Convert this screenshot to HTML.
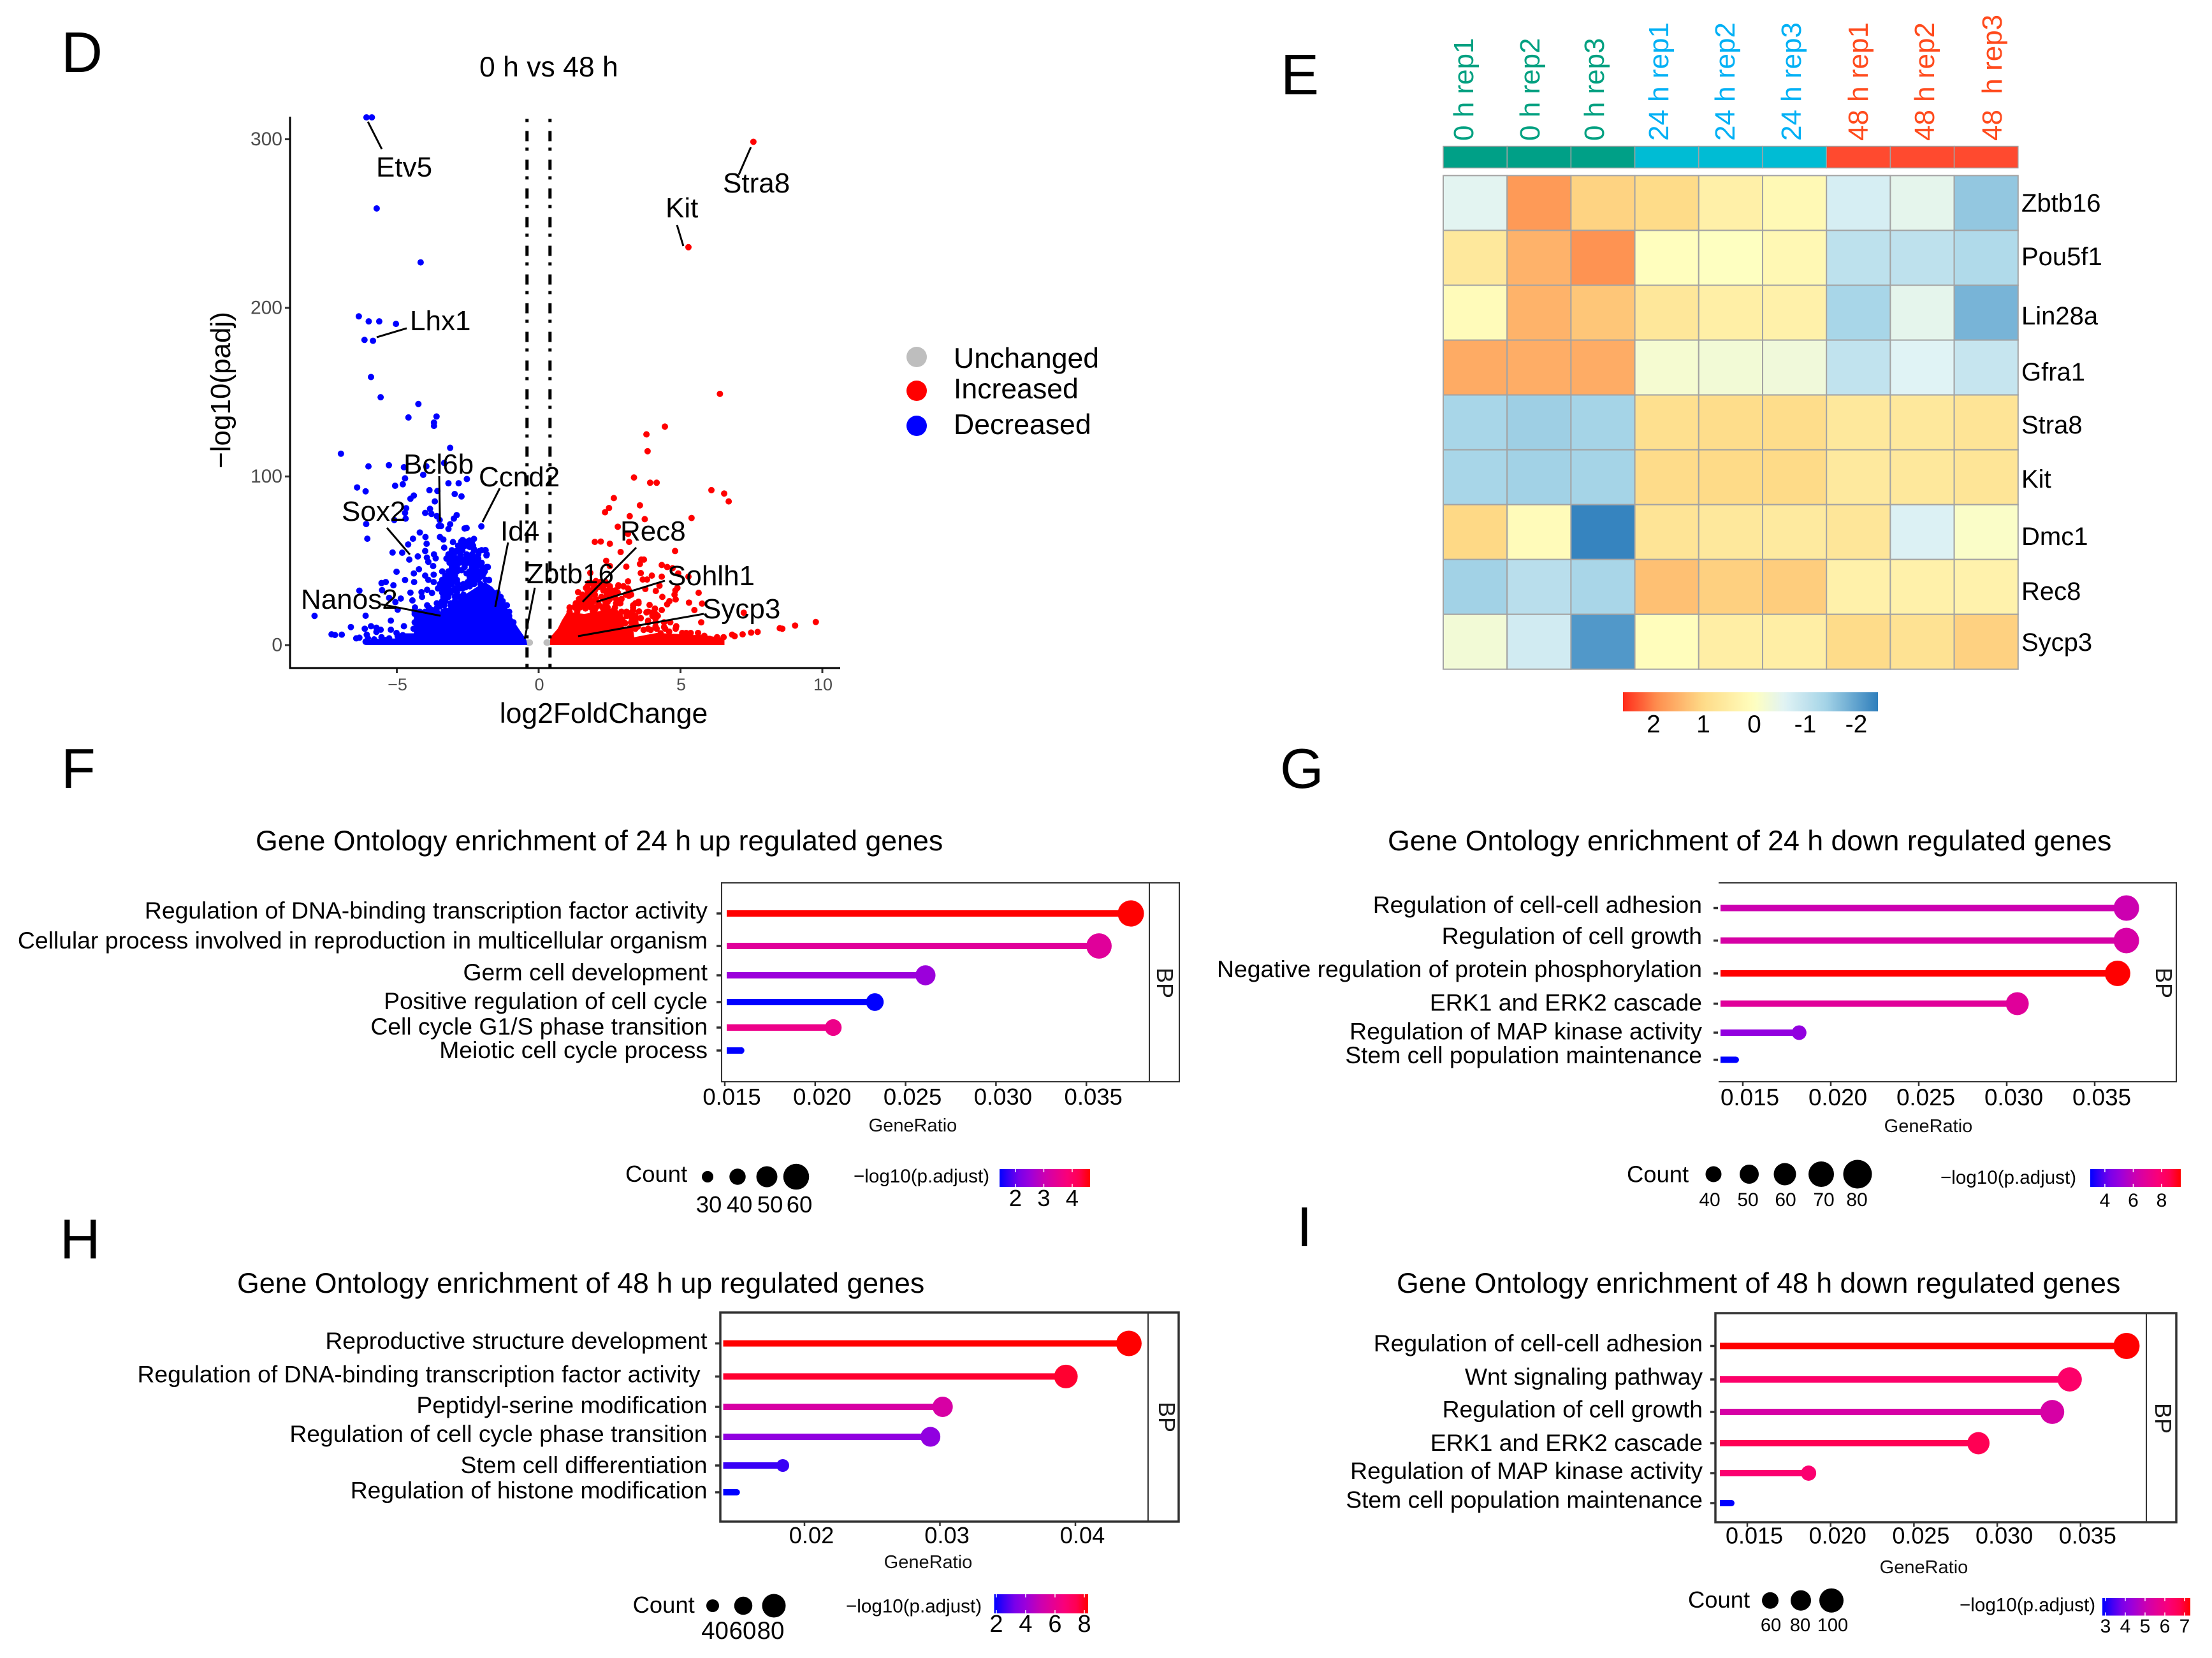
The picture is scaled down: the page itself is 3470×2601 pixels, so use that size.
<!DOCTYPE html>
<html lang="en">
<head>
<meta charset="utf-8">
<title>Transcriptome figure panels D to I</title>
<style>
html,body{margin:0;padding:0;background:#fff;}
svg{display:block;font-family:"Liberation Sans",Arial,sans-serif;}
</style>
</head>
<body>
<svg id="figure" xmlns="http://www.w3.org/2000/svg" width="3470" height="2601" viewBox="0 0 3470 2601">
<rect x="0" y="0" width="3470" height="2601" fill="#fff"/>
<text x="96" y="113" font-size="90">D</text>
<text x="2009" y="148" font-size="90">E</text>
<text x="96" y="1236" font-size="88">F</text>
<text x="2008" y="1236" font-size="88">G</text>
<text x="94" y="1974" font-size="88">H</text>
<text x="2034" y="1955" font-size="88">I</text>

<text x="752" y="120" font-size="44.5">0 h vs 48 h</text>
<text x="947" y="1134" font-size="44.5" text-anchor="middle">log2FoldChange</text>
<text transform="translate(361 612) rotate(-90)" font-size="44" text-anchor="middle">−log10(padj)</text>
<g id="volcano"></g>
<g>
<circle cx="1438" cy="560" r="16" fill="#bebebe"/>
<circle cx="1438" cy="613" r="16" fill="#ff0000"/>
<circle cx="1438" cy="668" r="16" fill="#0000ff"/>
<text x="1496" y="577" font-size="44.6">Unchanged</text>
<text x="1496" y="625" font-size="44.6">Increased</text>
<text x="1496" y="681" font-size="44.6">Decreased</text>
</g>

<g id="heatmap"></g>

<text x="401" y="1334" font-size="44.7">Gene Ontology enrichment of 24 h up regulated genes</text>
<text x="2177" y="1334" font-size="44.7">Gene Ontology enrichment of 24 h down regulated genes</text>
<text x="372" y="2028" font-size="44.7">Gene Ontology enrichment of 48 h up regulated genes</text>
<text x="2191" y="2028" font-size="44.7">Gene Ontology enrichment of 48 h down regulated genes</text>
<g id="lollipops"></g>
</svg>

<script>
/* ---------- panel D: volcano data (log2FoldChange, -log10 padj) ---------- */
const volcanoXTicks = [-5, 0, 5, 10];
const volcanoYTicks = [0, 100, 200, 300];
const foldChangeCutoffs = [-0.41, 0.4];
const grayX = [-0.31, -0.36, 0.28, 0.33];
const grayY = [1.5, 1.5, 1.5, 1.5];
const blueCoreX = [-6.1,-6.1,-5.0,-4.9,-4.4,-4.4,-3.75,-3.4,-3.2,-2.98,-2.5,-2.13,-1.9,-1.64,-1.46,-1.31,-1.16,-1.0,-0.85,-0.7,-0.55,-0.44,-0.4];
const blueCoreY = [0,3,4,7,7,19,19,20,22,25,31,35,37.5,34.5,31,27,23.5,18.5,13.5,9.7,6,3.4,0];
const redCoreX = [0.4,0.41,0.67,0.82,1.01,1.61,2.66,2.96,3.0,3.33,3.37,4.16,4.9,5.36,5.8,6.55,6.55];
const redCoreY = [0,4.7,9.7,14.7,19.8,18.5,21.7,18.5,11,9.7,4.7,7.2,6.6,6,6,4,0];
const blueX = [
-6.07,-5.88,-5.71,-4.16,-6.34,-5.99,-5.62,-5.03,-6.14,-5.84,
-5.91,-5.57,-4.24,-4.59,-3.6,-3.69,-3.69,-6.97,-3.12,-6.0,
-5.28,-4.75,-3.96,-4.07,-3.33,-4.71,-4.79,-5.06,-6.4,-6.1,
-2.53,-2.82,-3.18,-3.85,-3.57,-2.96,-2.72,-4.4,-4.52,-3.66,
-3.83,-4.67,-4.71,-4.69,-5.09,-4,-3.78,-3.59,-3.49,-2.89,
-2.99,-6.08,-6.04,-3.12,-3.18,-3.52,-3.44,-2.61,-2.54,-2.02,
-4.19,-4.43,-3.99,-3.48,-3.36,-3.02,-2.68,-2.44,-2.28,-4.6,
-3.95,-3.33,-2.76,-2.69,-2.43,-2.28,-2.09,-1.89,-1.84,-5.15,
-4.81,-4.56,-4,-4.26,-3.94,-3.69,-3.63,-3.89,-3.72,-2.91,
-3.1,-3.21,-3.14,-2.88,-2.54,-2.2,-2.65,-2.5,-2.24,-2.05,
-1.83,-2.72,-2.34,-1.94,-3.03,-5.01,-4.22,-4.4,-3.4,-3.7,
-4,-3.89,-3.14,-3.33,-4.71,-4.39,-3.7,-1.75,-5.54,-5.39,
-5.12,-5.52,-6.32,-3.51,-3.18,-3.93,-3.76,-4.13,-4.52,-4.11,
-4.45,-5.27,-4.86,-5.05,-4.97,-4.36,-3.93,-3.87,-3.59,-3.44,
-3.29,-7.9,-6.1,-5.21,-6.62,-4.75,-5.91,-5.72,-6.13,-5.57,
-5.21,-5.72,-7.3,-7.18,-6.94,-6.43,-6.32,-6.06,-5.01,-6.02,
-5.8,-5.54,-5.27,-4.79,-3.18,-2.95,-2.54,-2.43,-2.28,-2.09,
-2.13,-1.98,-2.5,-2.28,-2.05,-3.1,-3.25,-3.4,-3.25,-3.03,
-2.8,-2.58,-2.43,-3.36,-3.18,-2.95,-3.4,-3.1,-3.59,-3.48,
-3.63,-3.78,-2.65,-2.88,-1.49,-1.38,-1.23,-1.04,-0.89,-4.37,
-4.22,-4.07,-3.93,-4.37,-4.41,-4.97,-5.4,-5.0,-5.7,-6.1];
const blueY = [
313,313,259,227,195,192,192,190.5,181,180.5,
159,147,143,135,135.6,132,130,113.5,117,106,
106.7,105.5,106,101,108,98.9,95.4,94.5,93.5,91.2,
98.5,96,96,91.9,91.4,89.6,88.2,88.7,86.8,85.2,
80.8,81.2,78.4,75,74.2,78.4,77.8,76.5,74.2,77.1,
75,71.8,63.1,71.7,68.9,70.6,70.6,69.2,69.4,70.4,
66.8,63.1,64.1,64.1,62.6,61.1,62.3,62,63,59.7,
60.1,57.8,59.5,57.6,58.2,57,55.7,56.3,53.2,54.9,
54.8,50.7,55.8,52.6,51.9,53.8,51.5,49.4,46.9,55.7,
54.4,51.9,49.4,51.3,53.2,51.9,48.8,48.8,48.8,47.5,
46.3,44.4,43.7,42.5,45.6,43.5,45,42.5,43.7,41.8,
41.2,38.7,41.2,38,38.6,37.4,37.4,38.4,36.8,37.4,
35.5,32.6,32.3,34.3,34.3,32.8,30.9,31.4,31.1,28.6,
26.5,28,27.6,25.5,21,22.3,23.6,22.3,21.9,24.8,
20.4,17.3,17.4,14.5,10.7,11.2,11.2,10.3,9.7,9.1,
9.1,7.8,6.4,6,6.2,4,4.4,6.2,7.2,4,
3.4,4.7,4,5.9,43.7,42.5,42.5,40,39.3,40,
42.5,43.7,37.4,36.2,36.2,37.4,40,34.9,31.1,32.4,
33.6,34.3,34.9,29.9,28.6,28.6,26.1,24.8,24.8,22.9,
21,21,29.9,37.4,29.9,28.6,23.6,17.3,13.5,18.5,
17.3,18.5,19.2,13.5,9.7,5.3,3,2,2,2];
const blueDenseX = [
-2.73,-2.58,-2.35,
-2.84,-2.61,-2.5,-2.31,
-3.06,-2.8,-2.69,-2.28,-2.01,-1.87,
-3.18,-2.99,-2.76,-2.54,-2.35,-2.13,-1.83,
-3.25,-3.06,-2.73,-2.58,-2.43,-2.24,-2.13,
-3.14,-2.99,-2.8,-2.65,-2.35,-2.17,-2.01,
-3.06,-2.88,-2.61,-2.35,-2.2,-1.98,-1.79,
-3.06,-2.88,-2.43,-2.24,-2.09,-1.9,
-3.29,-3.1,-2.95,-2.35,-2.2,-1.98,
-3.4,-3.18,-3.03,-2.88,-2.35,-2.13,-1.87,-1.75,
-3.48,-3.29,-3.06,-2.84,-2.65,-2.46,
-3.55,-3.36,-3.21,-2.95,-2.69,
-3.4,-3.1,-2.88,-1.45,
-3.36,-3.25,-2.8,-2.58,-1.45,-1.34,
-3.29,-2.95,-2.73,-1.38,-1.27,
-3.51,-3.33,-3.1,-1.23,-1.12,
-4.37,-4.19,-4,-3.78,-3.59,-3.36,-1.04];
const blueDenseY = [
61.4,61.4,61.4,
58.9,58.9,58.9,58.9,
56.3,56.3,56.3,56.3,56.3,56.3,
53.8,53.8,53.8,53.8,53.8,53.8,53.8,
51.3,51.3,51.3,51.3,51.3,51.3,51.3,
48.8,48.8,48.8,48.8,48.8,48.8,48.8,
46.3,46.3,46.3,46.3,46.3,46.3,46.3,
43.7,43.7,43.7,43.7,43.7,43.7,
41.2,41.2,41.2,41.2,41.2,41.2,
38.7,38.7,38.7,38.7,38.7,38.7,38.7,38.7,
36.2,36.2,36.2,36.2,36.2,36.2,
33.6,33.6,33.6,33.6,33.6,
31.1,31.1,31.1,31.1,
28.6,28.6,28.6,28.6,28.6,28.6,
26.1,26.1,26.1,26.1,26.1,
23.6,23.6,23.6,23.6,23.6,
19.8,19.8,19.8,19.8,19.8,19.8,19.8];
const redX = [
7.57,5.28,6.39,4.45,3.8,3.84,3.36,3.93,4.16,6.09,
6.54,6.7,2.65,2.48,2.34,3.57,5.39,3.21,3.74,2.79,
3.15,1.98,2.19,2.51,3.19,2.89,4.81,2.38,3.62,3.71,
3.57,3.09,4.34,4.53,4.72,2.51,3.6,1.82,4.92,3.99,
4.34,5.28,3.67,3.82,3.15,1.76,1.67,1.39,2.81,2.99,
3.15,3.76,4.26,4.13,4.89,4.82,5.64,2.79,3.18,4.79,
4.36,4.83,4.61,4.53,5.3,5.76,3.52,3.33,2.73,2.85,
2.43,1.27,3.91,4.1,4.34,5.49,3.54,3.8,4,3.33,
3.1,4.16,3.26,3.41,3.86,4.12,4.64,5.73,4.85,4.42,
4.12,7.23,9.77,9.04,8.5,8.59,7.72,7.49,7.19,6.82,
6.91,6.52,6.29,6.03,5.84,5.62,5.28,5.06,2.02,2.21,
2.36,2.51,2.1,1.91,1.84,2.36,2.58,1.57,1.76,1.98,
2.21,2.51,1.68,1.91,2.13,2.36,1.46,2.66,1.65,1.98,
3.2,3.5,3.7,3.95,3.3,3.6,2.95,3.05,4.3,4.6];
const redY = [
298.5,236,149,129.6,125,115,99.4,96.3,96.3,91.9,
89.9,85.2,87.2,81.3,78.8,82.9,75.4,76.5,74.7,70.2,
66,61.2,61.4,60.1,61.2,55.2,55.8,50,50.7,50.7,
48.1,46.5,47.5,46.3,45.6,46.9,42.7,42.8,42.5,41.2,
40.6,40.6,38.9,38.9,37.8,36.8,33.9,31.4,35.5,34.9,
33.6,33.3,35.2,32.1,33.9,32.4,31,31.1,29.2,29.9,
28.6,27.1,26.1,24.2,25.2,24.6,25.7,23.6,24.8,24.8,
25.5,22.7,23.8,21.7,20.8,20.8,20,19.4,19.2,20.4,
18.5,17.9,16.6,14.7,14.5,15.4,13.5,13.5,11.2,10.7,
11,19.2,13.7,11.6,10,9.7,7.8,7.4,6.4,6.2,
5.3,4.7,4.7,3.7,5.5,7.2,6.6,7.2,38,37.4,
36.2,34.9,34.3,36.2,32.4,32.4,32.4,27.3,28.6,29.9,
28.6,29.9,24.8,26,23.6,22.3,23.6,21,21.7,21,
10,11,9,9,13,16,15,13,7,8];
const redDenseX = [
1.99,2.17,2.36,
1.72,1.95,2.28,2.51,2.81,2.99,
1.72,1.98,2.28,2.51,2.7,3.18,
1.54,1.72,1.91,2.4,2.62,3.07,3.26,
1.42,1.61,1.8,2.02,2.28,2.51,2.73,2.92,
1.31,1.5,1.69,1.87,2.1,2.36,2.73,2.88,3.41,3.52,
1.09,1.27,1.46,1.65,1.84,2.02,2.25,2.43,2.69,3.33,
1.09,1.36,1.91,2.28,2.51,2.69,2.92,3.1,3.3,3.86,4.08,
3.1,3.26,3.41,4.01,4.2,
3.0,3.26,3.41,3.86,4.12,4.42,
3.41,3.86,4.16,4.46,4.83,
5.2,5.36,5.62];
const redDenseY = [
37.4,37.4,37.4,
34.9,34.9,34.9,34.9,34.9,34.9,
32.4,32.4,32.4,32.4,32.4,32.4,
29.9,29.9,29.9,29.9,29.9,29.9,29.9,
27.3,27.3,27.3,27.3,27.3,27.3,27.3,27.3,
24.8,24.8,24.8,24.8,24.8,24.8,24.8,24.8,24.8,24.8,
22.3,22.3,22.3,22.3,22.3,22.3,22.3,22.3,22.3,22.3,
19.8,19.8,19.8,19.8,19.8,19.8,19.8,19.8,19.8,19.8,19.8,
17.3,17.3,17.3,17.3,17.3,
13.5,13.5,13.5,13.5,13.5,13.5,
9.7,9.7,9.7,9.7,9.7,
7.2,7.2,7.2];
const geneNames = ["Etv5","Stra8","Kit","Lhx1","Bcl6b","Ccnd2","Sox2","Id4","Zbtb16","Nanos2","Rec8","Sohlh1","Sycp3"];
const geneX = [-6.02,7.48,5.1,-5.71,-3.48,-1.98,-4.54,-1.53,-0.49,-3.46,1.55,2.04,1.39];
const geneY = [310.4,295.3,236.7,182.6,73.3,73,53.7,22.7,3.8,17.4,25.7,25.7,5.3];

/* ---------- panel E: heatmap z-scores ---------- */
const sampleNames = ["0 h rep1","0 h rep2","0 h rep3","24 h rep1","24 h rep2","24 h rep3","48 h rep1","48 h rep2","48  h rep3"];
const heatGenes = ["Zbtb16","Pou5f1","Lin28a","Gfra1","Stra8","Kit","Dmc1","Rec8","Sycp3"];
const heatZbtb16 = [-0.55,1.78,1.1,0.98,0.42,0.18,-0.74,-0.5,-1.56];
const heatPou5f1 = [0.64,1.49,1.86,0.02,-0.02,0.2,-1.07,-1.06,-1.25];
const heatLin28a = [0.1,1.48,1.25,0.67,0.45,0.38,-1.36,-0.5,-1.79];
const heatGfra1 = [1.58,1.55,1.57,-0.2,-0.25,-0.3,-1.02,-0.6,-0.95];
const heatStra8 = [-1.36,-1.46,-1.4,0.87,0.95,0.95,0.64,0.64,0.75];
const heatKit = [-1.36,-1.43,-1.4,0.96,1.0,1.0,0.6,0.64,0.72];
const heatDmc1 = [1.03,0.1,-2.37,0.75,0.64,0.58,0.69,-0.65,-0.1];
const heatRec8 = [-1.43,-1.13,-1.35,1.33,1.13,1.17,0.38,0.38,0.35];
const heatSycp3 = [-0.25,-0.8,-2.13,0.05,0.48,0.48,0.96,0.8,1.12];
const heatLegendTicks = [2,1,0,-1,-2];

/* ---------- panels F-I: enrichment data ---------- */
const fTerms = ["Regulation of DNA-binding transcription factor activity","Cellular process involved in reproduction in multicellular organism","Germ cell development","Positive regulation of cell cycle","Cell cycle G1/S phase transition","Meiotic cell cycle process"];
const fRatio = [0.03746,0.0357,0.0261,0.0233,0.021,0.0159];
const fCount = [61,59,48,43,41,20];
const fLogP = [4.63,3.35,2.5,1.44,3.6,1.44];
const fXTicks = [0.015,0.02,0.025,0.03,0.035];
const fCountBreaks = [30,40,50,60];
const fColorBreaks = [2,3,4];

const gTerms = ["Regulation of cell-cell adhesion","Regulation of cell growth","Negative regulation of protein phosphorylation","ERK1 and ERK2 cascade","Regulation of MAP kinase activity","Stem cell population maintenance"];
const gRatio = [0.0368,0.0368,0.0363,0.0306,0.0182,0.0146];
const gCount = [70,70,70,62,36,10];
const gLogP = [6.16,6.48,9.35,6.8,4.9,2.97];
const gXTicks = [0.015,0.02,0.025,0.03,0.035];
const gCountBreaks = [40,50,60,70,80];
const gColorBreaks = [4,6,8];

const hTerms = ["Reproductive structure development","Regulation of DNA-binding transcription factor activity","Peptidyl-serine modification","Regulation of cell cycle phase transition","Stem cell differentiation","Regulation of histone modification"];
const hRatio = [0.04395,0.0393,0.0302,0.0293,0.0184,0.015];
const hCount = [87,80,68,66,40,16];
const hLogP = [8.26,7.8,5.4,3.77,2.5,1.85];
const hXTicks = [0.02,0.03,0.04];
const hCountBreaks = [40,60,80];
const hColorBreaks = [2,4,6,8];

const iTerms = ["Regulation of cell-cell adhesion","Wnt signaling pathway","Regulation of cell growth","ERK1 and ERK2 cascade","Regulation of MAP kinase activity","Stem cell population maintenance"];
const iRatio = [0.03776,0.03435,0.0333,0.02887,0.01868,0.01404];
const iCount = [110,100,99,90,53,7];
const iLogP = [7.29,6.4,5.29,6.7,6.3,2.84];
const iXTicks = [0.015,0.02,0.025,0.03,0.035];
const iCountBreaks = [60,80,100];
const iColorBreaks = [3,4,5,6,7];

/* ---------- helpers ---------- */
const NS = "http://www.w3.org/2000/svg";
function make(tag, attrs, parent, text) {
  const el = document.createElementNS(NS, tag);
  for (const k in attrs) el.setAttribute(k, attrs[k]);
  if (text !== undefined) el.textContent = text;
  parent.appendChild(el);
  return el;
}
function hexRgb(h){return [parseInt(h.slice(1,3),16),parseInt(h.slice(3,5),16),parseInt(h.slice(5,7),16)];}
function ramp(stops, t){
  for (let i=1;i<stops.length;i++){
    if (t<=stops[i][0]){
      const a=stops[i-1], b=stops[i], f=(t-a[0])/(b[0]-a[0]||1);
      const ca=hexRgb(a[1]), cb=hexRgb(b[1]);
      return "rgb("+ca.map((v,j)=>Math.round(v+(cb[j]-v)*f)).join(",")+")";
    }
  }
  return stops[stops.length-1][1];
}

/* ---------- draw volcano ---------- */
(function(){
  const root = document.getElementById("volcano");
  const xS = v => 845 + v*44.5;
  const yS = v => 1012 - v*2.645;
  let el;
  function dots(xs, ys, fill, name, r){
    for (let i=0;i<xs.length&&i<ys.length;i++){
      el = make("circle",{cx:xS(xs[i]),cy:yS(ys[i]),r:r,fill:fill},root);
      
      
    }
  }
  function core(xs, ys, fill, name){
    el = make("polygon",{points:xs.map((x,i)=>xS(x)+","+yS(ys[i])).join(" "),fill:fill},root);
    
    
  }
  dots(grayX, grayY, "#bebebe", "unchanged-gene-point", 5);
  core(blueCoreX, blueCoreY, "#0000ff", "decreased-genes-dense-area");
  dots(blueX, blueY, "#0000ff", "decreased-gene-point", 5);
  dots(blueDenseX, blueDenseY, "#0000ff", "decreased-gene-point", 5);
  core(redCoreX, redCoreY, "#ff0000", "increased-genes-dense-area");
  dots(redX, redY, "#ff0000", "increased-gene-point", 5);
  dots(redDenseX, redDenseY, "#ff0000", "increased-gene-point", 5);

  foldChangeCutoffs.forEach(function(c){
    el = make("line",{x1:xS(c),x2:xS(c),y1:186.5,y2:1048,stroke:"#000","stroke-width":5,"stroke-dasharray":"5 14 16 10"},root);
    
    
  });

  el = make("line",{x1:455,x2:455,y1:183,y2:1049.5,stroke:"#000","stroke-width":3},root);
  
  
  el = make("line",{x1:453.5,x2:1318,y1:1048,y2:1048,stroke:"#000","stroke-width":3},root);
  
  

  volcanoXTicks.forEach(function(t){
    el = make("line",{x1:xS(t),x2:xS(t),y1:1049,y2:1056,stroke:"#333","stroke-width":3},root);
    
    
    el = make("text",{x:xS(t)+1,y:1083,"font-size":27,"text-anchor":"middle",fill:"#4d4d4d"},root,String(t).replace("-","−"));
    
    
  });
  volcanoYTicks.forEach(function(t){
    el = make("line",{x1:447,x2:454,y1:yS(t),y2:yS(t),stroke:"#333","stroke-width":3},root);
    
    
    el = make("text",{x:443,y:yS(t)+9.5,"font-size":30,"text-anchor":"end",fill:"#4d4d4d"},root,String(t));
    
    
  });

  const labelLeft = [590,1134,1044,643,633,751,536,785,826,472,973,1047,1102];
  const labelBase = [277,302,341,518,743,763,817,848,915,955,848,918,970];
  const leaderX = [599,1159,1062,638,689,784,607,797,839,598,998,1043,1104];
  const leaderY = [234,274,353,515,747,766,828,851,922,948,859,911,963];
  geneNames.forEach(function(g,i){
    el = make("line",{x1:xS(geneX[i]),y1:yS(geneY[i]),x2:leaderX[i],y2:leaderY[i],stroke:"#000","stroke-width":3},root);
    
    
    el = make("text",{x:labelLeft[i],y:labelBase[i],"font-size":44},root,g);
    
    
  });
})();

/* ---------- draw heatmap ---------- */
(function(){
  const root = document.getElementById("heatmap");
  const rows = [heatZbtb16,heatPou5f1,heatLin28a,heatGfra1,heatStra8,heatKit,heatDmc1,heatRec8,heatSycp3];
  const stops = [[-2.43,"#2f7fbc"],[-1.4,"#a5d4e7"],[-0.6,"#e0f3f5"],[0,"#ffffbf"],[1,"#fedb88"],[1.9,"#fe9050"],[2.58,"#ff2a1a"]];
  const x0=2264, cw=100.2, y0=275.4, rh=86.04;
  const grid="#a3a3a3";
  let el;
  const groupColor=["#00a087","#00bcd4","#ff4a2f"];
  const textColor=["#00a080","#00b0f5","#ff4a1c"];
  const labelX=[2311,2415,2516,2617,2721,2825,2930,3034,3140];
  sampleNames.forEach(function(s,c){
    const g=Math.floor(c/3);
    el = make("rect",{x:x0+c*cw,y:229.5,width:cw,height:34,fill:groupColor[g],stroke:grid,"stroke-width":1.5},root);
    
    
    el = make("text",{transform:"translate("+labelX[c]+" 221) rotate(-90)","font-size":44,fill:textColor[g],style:"white-space:pre"},root,s);
    
    
  });
  rows.forEach(function(row,r){
    row.forEach(function(v,c){
      el = make("rect",{x:x0+c*cw,y:y0+r*rh,width:cw,height:rh,fill:ramp(stops,v),stroke:grid,"stroke-width":2},root);
      
      
    });
  });
  const baselines=[332,416,509,597,680,765,855,941,1021];
  heatGenes.forEach(function(g,r){
    el = make("text",{x:3171,y:baselines[r],"font-size":40},root,g);
    
    
  });
  const defs = make("defs",{},root);
  const lg = make("linearGradient",{id:"heatLegendGradient",x1:"0",x2:"1",y1:"0",y2:"0"},defs);
  for (let i=0;i<=40;i++){
    const t=i/40, v=2.58+(-2.43-2.58)*t;
    make("stop",{offset:t,"stop-color":ramp(stops,v)},lg);
  }
  el = make("rect",{x:2546,y:1086,width:400,height:30,fill:"url(#heatLegendGradient)"},root);
  
  
  heatLegendTicks.forEach(function(t){
    el = make("text",{x:2752+(t===2?2:0)-t*80,y:1149,"font-size":39,"text-anchor":"middle"},root,String(t));
    
    
  });
})();

/* ---------- draw enrichment panels ---------- */
const logpStops = [[0,"#0000ff"],[0.12,"#4400f4"],[0.22,"#7a00ea"],[0.33,"#9a00dc"],[0.5,"#cc00b0"],[0.6,"#e0009a"],[0.75,"#fa0078"],[0.88,"#ff0050"],[1,"#ff0000"]];
const panels = [
 {id:"panel-f",terms:fTerms,ratio:fRatio,count:fCount,logp:fLogP,ticks:fXTicks,countBreaks:fCountBreaks,colorBreaks:fColorBreaks,fmt:3,
  left:1132,right:1850,top:1385,bottom:1697,divider:1803,sides:"all",lw:2,x0:1137,v0:0.015,pxPerUnit:141.8/0.005,
  rowY:[1433,1484,1530,1572,1612,1648],labelY:[1441,1488,1538,1583,1623,1660],labelX:[1110,1110,1110,1110,1110,1110],termSize:37.3,stemStart:1140,
  tickBase:1733,tickSize:36.5,titleX:1432,titleBase:1775,bpX:1827,bpY:1542,
  countX:981,countBase:1854,legendY:1846,sizeX:[1110,1157,1203,1249],sizeLabelX:[1112,1160,1208,1254],sizeLabelBase:1902,sizeLabelSize:36.5,r0:9,c0:30,rk:0.375,
  cbLabelX:1339,cbLabelBase:1855,barX:1568,barW:142,barY:1834,barH:28,cMin:1.44,cMax:4.63,cTickBase:1892,cTickSize:36.5},
 {id:"panel-g",terms:gTerms,ratio:gRatio,count:gCount,logp:gLogP,ticks:gXTicks,countBreaks:gCountBreaks,colorBreaks:gColorBreaks,fmt:3,
  left:2696,right:3414,top:1385,bottom:1697,divider:null,sides:"open",lw:2,x0:2734,v0:0.015,pxPerUnit:138/0.005,
  rowY:[1424.5,1475.5,1527,1574.5,1620,1662.5],labelY:[1432,1481,1533,1585.5,1630.5,1668],labelX:[2670,2670,2670,2670,2670,2670],termSize:37.3,stemStart:2699,
  tickBase:1734,tickSize:36.8,titleX:3025,titleBase:1776,bpX:3394,bpY:1542,
  countX:2552,countBase:1854.5,legendY:1842,sizeX:[2688,2744,2800,2857,2914],sizeLabelX:[2682,2742,2801,2861,2913],sizeLabelBase:1892,sizeLabelSize:30,r0:12.5,c0:40,rk:0.25,
  cbLabelX:3044,cbLabelBase:1857,barX:3279,barW:142,barY:1834,barH:28,cMin:2.97,cMax:9.35,cTickBase:1893,cTickSize:30},
 {id:"panel-h",terms:hTerms,ratio:hRatio,count:hCount,logp:hLogP,ticks:hXTicks,countBreaks:hCountBreaks,colorBreaks:hColorBreaks,fmt:2,
  left:1130,right:1849,top:2059,bottom:2387,divider:1801,sides:"all",lw:3.5,x0:1262,v0:0.02,pxPerUnit:212.5/0.01,
  rowY:[2107.5,2159.4,2207,2254,2299,2341],labelY:[2116,2168.5,2217,2262,2311,2350.5],labelX:[1109.5,1098.6,1109.5,1109.5,1109.5,1109.5],termSize:37.3,stemStart:1134.5,
  tickBase:2421,tickSize:36.2,titleX:1456,titleBase:2460,bpX:1830,bpY:2223,
  countX:992.6,countBase:2530,legendY:2519,sizeX:[1118,1166,1214],sizeLabelX:[1121.5,1165,1209],sizeLabelBase:2571,sizeLabelSize:38.5,r0:10,c0:40,rk:0.2125,
  cbLabelX:1327,cbLabelBase:2529.5,barX:1559.5,barW:147.5,barY:2501,barH:30,cMin:1.85,cMax:8.26,cTickBase:2560,cTickSize:38},
 {id:"panel-i",terms:iTerms,ratio:iRatio,count:iCount,logp:iLogP,ticks:iXTicks,countBreaks:iCountBreaks,colorBreaks:iColorBreaks,fmt:3,
  left:2691,right:3414,top:2060,bottom:2388,divider:3367,sides:"all",lw:3.5,x0:2741,v0:0.015,pxPerUnit:130.7/0.005,
  rowY:[2111.5,2164,2215,2264,2311,2358],labelY:[2120,2172.5,2223.5,2276,2320,2365.5],labelX:[2671,2671,2671,2671,2671,2671],termSize:37.3,stemStart:2698,
  tickBase:2421.6,tickSize:36,titleX:3018,titleBase:2468,bpX:3393,bpY:2225,
  countX:2648,countBase:2522,legendY:2510.7,sizeX:[2777,2825,2873],sizeLabelX:[2778,2824,2875],sizeLabelBase:2559,sizeLabelSize:29,r0:13,c0:60,rk:0.15,
  cbLabelX:3074,cbLabelBase:2527.5,barX:3298,barW:138,barY:2507,barH:27.5,cMin:2.84,cMax:7.29,cTickBase:2561,cTickSize:30}
];

panels.forEach(function(p){
  const root = document.getElementById("lollipops");
  const xS = v => p.x0 + (v-p.v0)*p.pxPerUnit;
  const rS = c => Math.max(5, p.r0 + p.rk*(c-p.c0));
  const tS = v => (v-p.cMin)/(p.cMax-p.cMin);
  const cbX = v => p.barX + tS(v)*p.barW;
  let el;

  /* frame */
  if (p.sides==="all"){
    el = make("rect",{x:p.left,y:p.top,width:p.right-p.left,height:p.bottom-p.top,fill:"none",stroke:"#333","stroke-width":p.lw},root);
    
    
  } else {
    el = make("path",{d:"M"+p.left+" "+p.top+"H"+p.right+"V"+p.bottom+"H"+p.left,fill:"none",stroke:"#333","stroke-width":p.lw},root);
    
    
  }
  if (p.divider){
    el = make("line",{x1:p.divider,x2:p.divider,y1:p.top,y2:p.bottom,stroke:"#333","stroke-width":2},root);
    
    
  }
  el = make("text",{transform:"translate("+(p.bpX-12)+" "+p.bpY+") rotate(90)","font-size":36,"text-anchor":"middle",fill:"#1a1a1a"},root,"BP");
  
  

  /* stems, points, y labels */
  p.terms.forEach(function(term,i){
    const y=p.rowY[i], col=ramp(logpStops,tS(p.logp[i])), cx=xS(p.ratio[i]);
    el = make("line",{x1:p.left-8,x2:p.left-1,y1:y,y2:y,stroke:"#333","stroke-width":3.5},root);
    
    
    el = make("line",{x1:p.stemStart,x2:cx,y1:y,y2:y,stroke:col,"stroke-width":10},root);
    
    
    el = make("circle",{cx:cx,cy:y,r:rS(p.count[i]),fill:col},root);
    
    
    el = make("text",{x:p.labelX[i],y:p.labelY[i],"font-size":p.termSize,"text-anchor":"end"},root,term);
    
    
  });

  /* x axis */
  p.ticks.forEach(function(t){
    el = make("line",{x1:xS(t),x2:xS(t),y1:p.bottom,y2:p.bottom+7,stroke:"#333","stroke-width":2.5},root);
    
    
    el = make("text",{x:xS(t)+11,y:p.tickBase,"font-size":p.tickSize,"text-anchor":"middle"},root,t.toFixed(p.fmt));
    
    
  });
  el = make("text",{x:p.titleX,y:p.titleBase,"font-size":29,"text-anchor":"middle",fill:"#111"},root,"GeneRatio");
  
  

  /* size legend */
  el = make("text",{x:p.countX,y:p.countBase,"font-size":36.4},root,"Count");
  
  
  p.countBreaks.forEach(function(c,i){
    el = make("circle",{cx:p.sizeX[i],cy:p.legendY,r:rS(c),fill:"#000"},root);
    
    
    el = make("text",{x:p.sizeLabelX[i],y:p.sizeLabelBase,"font-size":p.sizeLabelSize,"text-anchor":"middle"},root,String(c));
    
    
  });

  /* colour legend */
  el = make("text",{x:p.cbLabelX,y:p.cbLabelBase,"font-size":29.6},root,"−log10(p.adjust)");
  
  
  const defs = make("defs",{},root);
  const lg = make("linearGradient",{id:p.id+"-gradient",x1:"0",x2:"1",y1:"0",y2:"0"},defs);
  logpStops.forEach(function(s){ make("stop",{offset:s[0],"stop-color":s[1]},lg); });
  el = make("rect",{x:p.barX,y:p.barY,width:p.barW,height:p.barH,fill:"url(#"+p.id+"-gradient)"},root);
  
  
  p.colorBreaks.forEach(function(b){
    el = make("path",{d:"M"+cbX(b)+" "+p.barY+"v5M"+cbX(b)+" "+(p.barY+p.barH)+"v-5",stroke:"#fff","stroke-width":1.5},root);
    
    
    el = make("text",{x:cbX(b),y:p.cTickBase,"font-size":p.cTickSize,"text-anchor":"middle"},root,String(b));
    
    
  });
});
</script>
</body>
</html>
